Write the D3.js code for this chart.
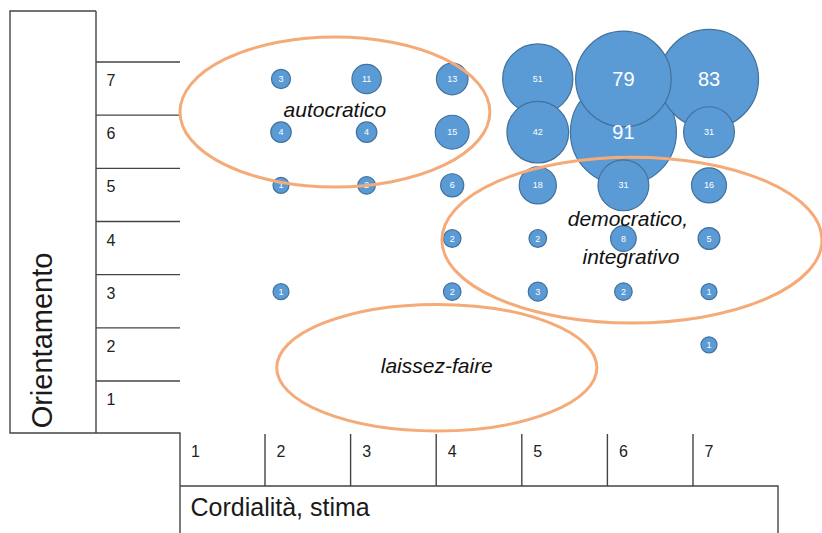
<!DOCTYPE html>
<html><head><meta charset="utf-8">
<script src="https://cdn.jsdelivr.net/npm/d3@7"></script>
<style>body{margin:0;background:#fff} svg{display:block}</style>
</head><body>
<svg id="c" width="822" height="533"></svg>
<script>
// ---- data ----
const xCategories = [1, 2, 3, 4, 5, 6, 7];
const yCategories = [1, 2, 3, 4, 5, 6, 7];
const xTitle = "Cordialità, stima";
const yTitle = "Orientamento";
const bubbleX     = [2, 3, 4, 5, 6, 7,  2, 3, 4, 5, 6, 7,  2, 3, 4, 5, 6, 7,  4, 5, 6, 7,  2, 4, 5, 6, 7,  7];
const bubbleY     = [7, 7, 7, 7, 7, 7,  6, 6, 6, 6, 6, 6,  5, 5, 5, 5, 5, 5,  4, 4, 4, 4,  3, 3, 3, 3, 3,  2];
const bubbleValue = [3,11,13,51,79,83,  4, 4,15,42,91,31,  1, 2, 6,18,31,16,  2, 2, 8, 5,  1, 2, 3, 2, 1,  1];
const regionLabels = [["autocratico"], ["democratico,", "integrativo"], ["laissez-faire"]];
// region centres / half-widths in data units
const regionCx = [2.63, 6.10, 3.82];
const regionCy = [6.38, 3.97, 1.57];
const regionRx = [1.81, 2.22, 1.87];
const regionRy = [1.41, 1.56, 1.19];

// ---- layout ----
const svg = d3.select("#c");
const FONT = "'Liberation Sans', Arial, sans-serif";
const LINE = "#444";
const x = d3.scaleLinear().domain([1, 7]).range([195.4, 709]);
const y = d3.scaleLinear().domain([1, 7]).range([398, 79]);
const r = d3.scalePow().exponent(0.85).domain([0, 91]).range([7, 53]);
const kx = x(2) - x(1), ky = y(1) - y(2);

const frame = svg.append("g").attr("fill", "none").attr("stroke", LINE).attr("stroke-width", 1.4);
// left title box
frame.append("path").attr("d", `M96,11 H10 V433 H180 V533`);
frame.append("line").attr("x1", 96).attr("x2", 96).attr("y1", 11).attr("y2", 433);
// row separators
frame.selectAll("line.row").data(yCategories).join("line").attr("class", "row")
  .attr("x1", 96).attr("x2", 180).attr("y1", d => y(d) - 17).attr("y2", d => y(d) - 17);
// bottom box
frame.append("path").attr("d", `M180,486 H778 V533`);
frame.selectAll("line.col").data(xCategories.slice(1)).join("line").attr("class", "col")
  .attr("x1", d => x(d) - 16).attr("x2", d => x(d) - 16).attr("y1", 434).attr("y2", 486);

// tick labels
svg.append("g").selectAll("text").data(yCategories).join("text")
  .attr("x", 111).attr("y", d => y(d) + 7).attr("text-anchor", "middle")
  .attr("font-family", FONT).attr("font-size", 16).attr("fill", "#222").text(d => d);
svg.append("g").selectAll("text").data(xCategories).join("text")
  .attr("x", d => x(d)).attr("y", 457).attr("text-anchor", "middle")
  .attr("font-family", FONT).attr("font-size", 16).attr("fill", "#222").text(d => d);

// titles
svg.append("text").attr("transform", "translate(52,340.5) rotate(-90)").attr("text-anchor", "middle")
  .attr("font-family", FONT).attr("font-size", 29).attr("fill", "#1a1a1a").text(yTitle);
svg.append("text").attr("x", 190.5).attr("y", 516)
  .attr("font-family", FONT).attr("font-size", 25).attr("fill", "#1a1a1a").text(xTitle);

// bubbles
const bubbles = bubbleValue.map((v, i) => ({ x: bubbleX[i], y: bubbleY[i], v }))
  .sort((a, b) => b.v - a.v);
svg.append("g").selectAll("circle").data(bubbles).join("circle")
  .attr("cx", d => x(d.x)).attr("cy", d => y(d.y)).attr("r", d => r(d.v))
  .attr("fill", "#5b9bd5").attr("stroke", "#41719c").attr("stroke-width", 1.2);
svg.append("g").selectAll("text").data(bubbles).join("text")
  .attr("x", d => x(d.x)).attr("y", d => y(d.y))
  .attr("text-anchor", "middle").attr("dy", "0.35em")
  .attr("font-family", FONT).attr("font-size", d => d.v >= 79 ? 20 : 9)
  .attr("fill", "#fff").text(d => d.v);

// regions
const regions = regionLabels.map((l, i) => ({ l, cx: regionCx[i], cy: regionCy[i], rx: regionRx[i], ry: regionRy[i] }));
svg.append("g").selectAll("ellipse").data(regions).join("ellipse")
  .attr("cx", d => x(d.cx)).attr("cy", d => y(d.cy))
  .attr("rx", d => d.rx * kx).attr("ry", d => d.ry * ky)
  .attr("fill", "none").attr("stroke", "#f4ab78").attr("stroke-width", 3);
const rt = svg.append("g").selectAll("text").data(regions).join("text")
  .attr("text-anchor", "middle").attr("font-family", FONT).attr("font-style", "italic")
  .attr("font-size", 21).attr("fill", "#111");
rt.each(function (d) {
  const t = d3.select(this);
  const n = d.l.length;
  d.l.forEach((s, j) => {
    t.append("tspan").attr("x", x(d.cx) + (n > 1 ? (j === 0 ? -4 : -1) : 0))
      .attr("y", y(d.cy) + (n > 1 ? (j === 0 ? -14 : 24) : 5)).text(s);
  });
});
</script>
</body></html>
